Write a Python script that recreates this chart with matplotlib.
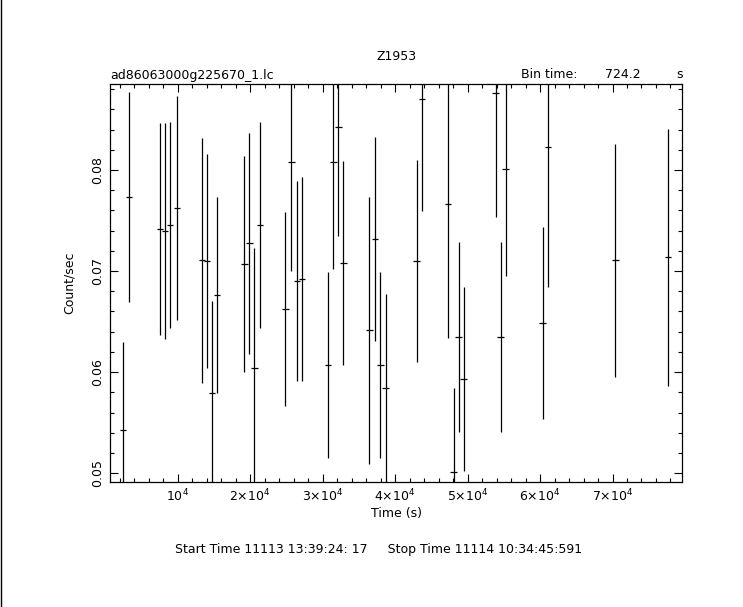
import numpy as np
import matplotlib
matplotlib.use("Agg")
import matplotlib.pyplot as plt
from matplotlib.ticker import MultipleLocator, FixedLocator
from matplotlib.lines import Line2D

# light curve
temps = [2486, 3315, 7597, 8287, 8978, 9903, 13398, 14088, 14779, 15428,
         19199, 19890, 20580, 21326, 24862, 25690, 26436, 27127, 30718, 31492,
         32182, 32873, 36464, 37210, 37983, 38674, 42956, 43702, 47334, 48066,
         48757, 49448, 53867, 54558, 55249, 60359, 61050, 70401, 77624]
taux = [0.05427, 0.07729, 0.07415, 0.07396, 0.07455, 0.07623, 0.07106, 0.07096, 0.0579, 0.0676,
        0.07069, 0.07274, 0.06038, 0.07455, 0.06621, 0.08075, 0.06904, 0.06924, 0.06067, 0.08078,
        0.08421, 0.07076, 0.06416, 0.07314, 0.06067, 0.05843, 0.07096, 0.08698, 0.0766, 0.05009,
        0.06344, 0.05932, 0.08758, 0.06344, 0.08006, 0.06483, 0.08224, 0.07106, 0.07136]
erreurs = [0.0087, 0.0104, 0.0105, 0.0107, 0.0102, 0.0111, 0.0121, 0.0106, 0.0091, 0.0097,
           0.0107, 0.0109, 0.0119, 0.0102, 0.0096, 0.0107, 0.0099, 0.0101, 0.0092, 0.0106,
           0.0107, 0.0101, 0.0132, 0.0101, 0.0092, 0.0093, 0.0100, 0.0110, 0.0132, 0.0083,
           0.0094, 0.0091, 0.0122, 0.0094, 0.0106, 0.0095, 0.0138, 0.0115, 0.0127]
bin_time = 724.2

xticks = [10000, 20000, 30000, 40000, 50000, 60000, 70000]
xlabels = [r'$10^4$', r'$2{\times}10^4$', r'$3{\times}10^4$', r'$4{\times}10^4$',
           r'$5{\times}10^4$', r'$6{\times}10^4$', r'$7{\times}10^4$']
yticks = [0.05, 0.06, 0.07, 0.08]

plt.rcParams['mathtext.default'] = 'regular'
fig = plt.figure(figsize=(7.43, 6.07), dpi=100)
ax = fig.add_axes([0.148, 0.2054, 0.770, 0.6562])

ax.errorbar(temps, taux, yerr=erreurs, xerr=bin_time / 2 * 1.2, fmt='none',
            ecolor='black', elinewidth=0.9, capsize=0)

ax.set_xlim(650, 79600)
ax.set_ylim(0.0491, 0.0885)

ax.xaxis.set_major_locator(FixedLocator(xticks))
ax.set_xticklabels(xlabels)
ax.xaxis.set_minor_locator(MultipleLocator(2000))
ax.yaxis.set_major_locator(FixedLocator(yticks))
ax.set_yticklabels(['0.05', '0.06', '0.07', '0.08'], rotation=90, va='center')
ax.yaxis.set_minor_locator(MultipleLocator(0.002))
ax.tick_params(which='both', direction='in', top=True, right=True,
               labelsize=9, width=0.8, pad=4)
ax.tick_params(which='major', length=6)
ax.tick_params(which='minor', length=3)
for s in ax.spines.values():
    s.set_linewidth(0.9)

ax.set_xlabel("Time (s)", fontsize=9, labelpad=2)
ax.set_ylabel("Count/sec", fontsize=9, labelpad=11)

fig.text(397 / 743, 1 - 57 / 607, "Z1953", ha='center', va='center', fontsize=9)
fig.text(110 / 743, 1 - 75 / 607, "ad86063000g225670_1.lc", ha='left', va='center', fontsize=9)
fig.text(521 / 743, 1 - 75 / 607, "Bin time:", ha='left', va='center', fontsize=9)
fig.text(605 / 743, 1 - 75 / 607, "724.2", ha='left', va='center', fontsize=9)
fig.text(676 / 743, 1 - 75 / 607, "s", ha='left', va='center', fontsize=9)
fig.text(379 / 743, 1 - 549 / 607, "Start Time 11113 13:39:24: 17     Stop Time 11114 10:34:45:591",
         ha='center', va='center', fontsize=9)

fig.add_artist(Line2D([0.5 / 743, 0.5 / 743], [0, 1], color='black', linewidth=1))

fig.savefig("out.png", dpi=100)
